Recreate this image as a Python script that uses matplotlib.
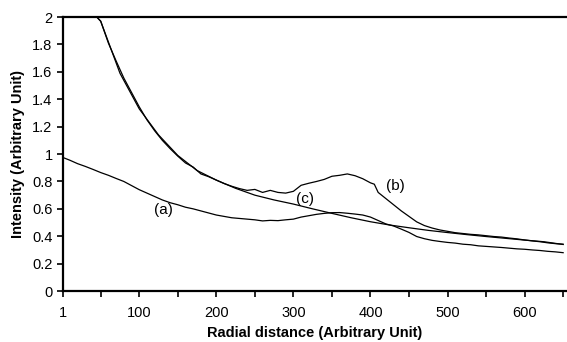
import matplotlib
matplotlib.use("Agg")
import matplotlib.pyplot as plt

plt.rcParams['font.family'] = ['Liberation Sans', 'DejaVu Sans']

# curve (a)
xa = [1, 10, 20, 30, 40, 50, 60, 70, 80, 90, 100, 110, 120, 130, 140, 150, 160, 170, 180, 190,
      200, 210, 220, 230, 240, 250, 260, 270, 280, 290, 300, 310, 320, 330, 340, 350, 360, 370,
      380, 390, 400, 410, 420, 430, 440, 450, 460, 470, 480, 490, 500, 510, 520, 530, 540, 550,
      560, 570, 580, 590, 600, 610, 620, 630, 640, 650]
ya = [0.975, 0.955, 0.93, 0.91, 0.888, 0.865, 0.845, 0.822, 0.80, 0.77, 0.74, 0.715, 0.69, 0.665,
      0.645, 0.63, 0.612, 0.60, 0.585, 0.57, 0.555, 0.545, 0.535, 0.53, 0.525, 0.52, 0.512, 0.516,
      0.514, 0.52, 0.525, 0.54, 0.55, 0.56, 0.567, 0.572, 0.573, 0.568, 0.562, 0.555, 0.54, 0.515,
      0.49, 0.475, 0.452, 0.428, 0.398, 0.382, 0.37, 0.362, 0.355, 0.35, 0.342, 0.338, 0.33, 0.326,
      0.322, 0.318, 0.313, 0.308, 0.305, 0.3, 0.296, 0.29, 0.286, 0.28]

# curve (b)
xb = [45, 50, 60, 70, 80, 90, 100, 110, 120, 130, 140, 150, 160, 170, 180, 190, 200, 210, 220,
      230, 240, 250, 260, 270, 280, 290, 300, 310, 320, 330, 340, 350, 360, 370, 380, 390, 400,
      405, 410, 420, 430, 440, 450, 460, 470, 480, 490, 500, 510, 520, 530, 540, 550, 560, 570,
      580, 590, 600, 610, 620, 630, 640, 650]
yb = [2.0, 1.97, 1.81, 1.68, 1.555, 1.45, 1.345, 1.25, 1.17, 1.1, 1.04, 0.985, 0.935, 0.905,
      0.855, 0.835, 0.81, 0.785, 0.765, 0.748, 0.735, 0.742, 0.72, 0.735, 0.72, 0.715, 0.728,
      0.772, 0.787, 0.80, 0.815, 0.838, 0.845, 0.855, 0.842, 0.82, 0.79, 0.78, 0.72, 0.675, 0.63,
      0.585, 0.545, 0.505, 0.478, 0.46, 0.446, 0.436, 0.426, 0.42, 0.414, 0.41, 0.404, 0.398,
      0.394, 0.387, 0.381, 0.373, 0.366, 0.36, 0.352, 0.346, 0.342]

# curve (c)
xc = [45, 50, 75, 100, 125, 150, 175, 200, 225, 250, 275, 300, 325, 350, 375, 400, 425, 450,
      475, 500, 525, 550, 575, 600, 625, 650]
yc = [2.0, 1.97, 1.59, 1.33, 1.14, 0.99, 0.88, 0.81, 0.75, 0.70, 0.665, 0.635, 0.60, 0.567,
      0.535, 0.506, 0.482, 0.462, 0.443, 0.427, 0.412, 0.398, 0.385, 0.372, 0.36, 0.34]

fig = plt.figure(figsize=(5.67, 3.42), dpi=100)
ax = fig.add_axes([0.111, 0.149, 0.889, 0.801])

for x, y in [(xa, ya), (xb, yb), (xc, yc)]:
    ax.plot(x, y, color='black', linewidth=0.9)

ax.text(131, 0.59, '(a)', fontsize=11, ha='center', va='center')
ax.text(432, 0.77, '(b)', fontsize=11, ha='center', va='center')
ax.text(315, 0.67, '(c)', fontsize=11, ha='center', va='center')

ax.set_xlim(1, 655)
ax.set_ylim(0, 2)
ax.set_xticks([1, 100, 200, 300, 400, 500, 600])
ax.set_xticks([50, 150, 250, 350, 450, 550, 650], minor=True)
ax.set_yticks([0, 0.2, 0.4, 0.6, 0.8, 1, 1.2, 1.4, 1.6, 1.8, 2])
ax.set_yticklabels(['0', '0.2', '0.4', '0.6', '0.8', '1', '1.2', '1.4', '1.6', '1.8', '2'])
ax.tick_params(axis='both', which='both', direction='out', length=4, width=1.2, labelsize=10.5)
ax.tick_params(axis='x', pad=7)

for side in ['left', 'bottom', 'top']:
    ax.spines[side].set_linewidth(1.6)
ax.spines['right'].set_visible(False)

ax.set_xlabel('Radial distance (Arbitrary Unit)', fontsize=10.5, fontweight='bold', labelpad=4)
ax.set_ylabel('Intensity (Arbitrary Unit)', fontsize=10.5, fontweight='bold', labelpad=5)

fig.savefig('out.png', dpi=100)
